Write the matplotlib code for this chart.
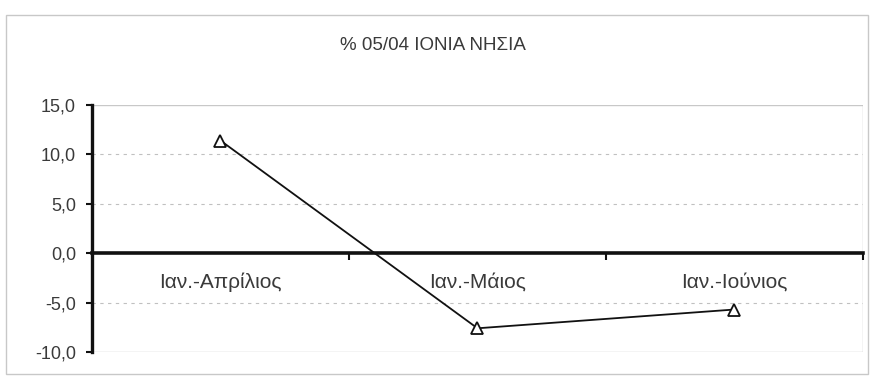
import matplotlib
matplotlib.use("Agg")
import matplotlib.pyplot as plt
from matplotlib.patches import Rectangle
from matplotlib.ticker import FuncFormatter, FixedLocator

periodoi = ["Ιαν.-Απρίλιος", "Ιαν.-Μάιος", "Ιαν.-Ιούνιος"]
metavoli = [11.4, -7.6, -5.7]
titlos = "% 05/04 ΙΟΝΙΑ ΝΗΣΙΑ"

plt.rcParams['font.family'] = ['Liberation Sans', 'DejaVu Sans']
keimeno = '#3a3a3a'

fig = plt.figure(figsize=(8.73, 3.81), dpi=100)
fig.patches.append(Rectangle((6 / 873, 1 - 374 / 381), 862 / 873, 359 / 381,
                             transform=fig.transFigure, fill=False,
                             edgecolor='#c8c8c8', linewidth=1.0))
fig.text(433 / 873, 1 - 45 / 381, titlos, ha='center', va='center',
         fontsize=13.5, color=keimeno)

ax = fig.add_axes([92 / 873, 1 - 352 / 381, 771 / 873, 247 / 381])
thesi = list(range(len(periodoi)))
ax.plot(thesi, metavoli, color='#111111', linewidth=1.3, marker='^',
        markersize=9, markerfacecolor='white', markeredgecolor='#111111',
        markeredgewidth=1.3, zorder=5)

ax.set_xlim(-0.5, len(periodoi) - 0.5)
ax.set_ylim(-10, 15)
ax.set_yticks([-10, -5, 0, 5, 10, 15])
ax.yaxis.set_major_formatter(FuncFormatter(lambda v, p: f"{v:.1f}".replace('.', ',')))

# γραμμές πλέγματος και πλαίσιο περιοχής σχεδίασης
for y in [-5, 5, 10]:
    ax.axhline(y, color='#c0c0c0', linewidth=0.8, linestyle=(0, (3, 4)), zorder=1)
ax.axhline(15, color='#c8c8c8', linewidth=1.0, zorder=1)
ax.axhline(-10, color='#c8c8c8', linewidth=1.0, zorder=1)
ax.axvline(len(periodoi) - 0.5, color='#c8c8c8', linewidth=1.0, zorder=1)

for s in ['top', 'right']:
    ax.spines[s].set_visible(False)
ax.spines['bottom'].set_position(('data', 0))
ax.spines['bottom'].set_linewidth(2.6)
ax.spines['bottom'].set_color('#111111')
ax.spines['left'].set_linewidth(2.4)
ax.spines['left'].set_color('#111111')

ax.set_xticks(thesi)
ax.set_xticklabels(periodoi)
ax.xaxis.set_minor_locator(FixedLocator([0.5, 1.5, 2.5]))
ax.tick_params(axis='x', which='major', length=0, pad=14, labelsize=15, labelcolor=keimeno)
ax.tick_params(axis='x', which='minor', length=5, width=1.5, direction='out', color='#111111')
ax.tick_params(axis='y', length=4.5, width=1.5, direction='out', color='#111111',
               labelsize=13, labelcolor=keimeno, pad=7)

fig.savefig("out.png", dpi=100)
